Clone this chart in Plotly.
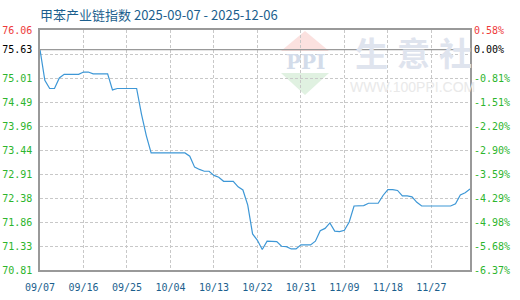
import plotly.graph_objects as go
import pandas as pd

# ---- data ----
start_date = "2025-09-07"
index_values = [
    75.63, 74.96, 74.78, 74.78, 75.01, 75.09, 75.09, 75.09, 75.09, 75.14,
    75.14, 75.10, 75.10, 75.10, 75.10, 74.75, 74.78, 74.78, 74.78, 74.78,
    74.78, 74.22, 73.75, 73.37, 73.37, 73.37, 73.37, 73.37, 73.37, 73.37,
    73.37, 73.30, 73.06, 73.01, 72.97, 72.97, 72.88, 72.84, 72.75, 72.75,
    72.75, 72.63, 72.56, 72.23, 71.60, 71.46, 71.26, 71.44, 71.44, 71.43,
    71.33, 71.32, 71.27, 71.27, 71.36, 71.36, 71.36, 71.44, 71.67, 71.72,
    71.84, 71.66, 71.65, 71.68, 71.86, 72.21, 72.21, 72.22, 72.27, 72.27,
    72.27, 72.44, 72.57, 72.57, 72.55, 72.43, 72.43, 72.41, 72.29, 72.21,
    72.21, 72.21, 72.21, 72.21, 72.21, 72.21, 72.26, 72.45, 72.50, 72.58,
]
dates = pd.date_range(start_date, periods=len(index_values), freq="D")

base_value = 75.63
grid_levels = [70.81, 71.335, 71.86, 72.385, 72.91, 73.435, 73.96, 74.485, 75.01, 75.535, 76.06]
left_labels = ["70.81", "71.33", "71.86", "72.38", "72.91", "73.44", "73.96", "74.49", "75.01", "", "76.06"]
right_labels = ["-6.37%", "-5.68%", "-4.98%", "-4.29%", "-3.59%", "-2.90%", "-2.20%", "-1.51%", "-0.81%", "", "0.58%"]
base_label_left = "75.63"
base_label_right = "0.00%"
x_tick_dates = ["2025-09-07", "2025-09-16", "2025-09-25", "2025-10-04", "2025-10-13",
                "2025-10-22", "2025-10-31", "2025-11-09", "2025-11-18", "2025-11-27"]
x_tick_labels = ["09/07", "09/16", "09/25", "10/04", "10/13", "10/22", "10/31", "11/09", "11/18", "11/27"]
title_text = "甲苯产业链指数 2025-09-07 - 2025-12-06"

RED = "#ee3b3b"
GREEN = "#2db52d"
BLACK = "#000000"

def colored(labels, top_idx):
    out = []
    for i, t in enumerate(labels):
        c = RED if i == top_idx else GREEN
        out.append(f'<span style="color:{c}">{t}</span>' if t else "")
    return out

ltext = colored(left_labels, len(left_labels) - 1) + [f'<span style="color:{BLACK}">{base_label_left}</span>']
rtext = colored(right_labels, len(right_labels) - 1) + [f'<span style="color:{BLACK}">{base_label_right}</span>']
tvals = grid_levels + [base_value]

# ---- figure ----
L, R, T, B = 40, 50, 30, 30
W, H = 520, 300
PW, PH = W - L - R, H - T - B

def px(X):
    return (X - L) / PW

def py(Y):
    return (H - B - Y) / PH

fig = go.Figure()
fig.add_trace(go.Scatter(x=dates, y=index_values, mode="lines",
                         line=dict(color="#3d97d6", width=1.2), hoverinfo="skip",
                         showlegend=False))
fig.add_trace(go.Scatter(x=[dates[0]], y=[base_value], yaxis="y2", mode="markers",
                         marker=dict(opacity=0), hoverinfo="skip", showlegend=False))

mono = "DejaVu Sans Mono"
yr = [grid_levels[0], grid_levels[-1]]
fig.update_layout(
    width=W, height=H,
    margin=dict(l=L, r=R, t=T, b=B, autoexpand=False),
    paper_bgcolor="white", plot_bgcolor="white",
    title=dict(text=title_text, x=L / W, xanchor="left", y=1 - 15 / H, yanchor="middle",
               font=dict(family="Noto Sans CJK SC", size=13, color="#1c5f8e")),
    xaxis=dict(type="date", range=[dates[0], dates[-1]], automargin=False,
               tickvals=x_tick_dates, ticktext=x_tick_labels,
               showgrid=True, gridcolor="#c8c8c8", griddash="3px,2px", gridwidth=1,
               showline=True, linecolor="#999999", linewidth=1.5, mirror=True,
               ticks="", ticklabelstandoff=7,
               tickfont=dict(family=mono, size=10, color="#1c5f8e"),
               zeroline=False),
    yaxis=dict(range=yr, tickvals=tvals, ticktext=ltext, automargin=False,
               showgrid=True, gridcolor="#c8c8c8", griddash="3px,2px", gridwidth=1,
               showline=True, linecolor="#999999", linewidth=1.5, mirror=True,
               ticks="", ticklabelstandoff=4,
               tickfont=dict(family=mono, size=10), zeroline=False),
    yaxis2=dict(range=yr, overlaying="y", side="right", tickvals=tvals, ticktext=rtext,
                automargin=False,
                showgrid=False, showline=False, ticks="", ticklabelstandoff=3,
                tickfont=dict(family=mono, size=10), zeroline=False),
)

# base line (0%)
fig.add_shape(type="line", xref="paper", yref="y", x0=0, x1=1, y0=base_value, y1=base_value,
              line=dict(color="#999999", width=1.2), layer="above")

# watermark
fig.add_shape(type="path", xref="paper", yref="paper", layer="below",
              path=f"M {px(305)} {py(31)} L {px(329)} {py(51)} L {px(281)} {py(51)} Z",
              fillcolor="#fbe1df", line=dict(width=0))
fig.add_shape(type="path", xref="paper", yref="paper", layer="below",
              path=f"M {px(281)} {py(73)} L {px(329)} {py(73)} L {px(305)} {py(95)} Z",
              fillcolor="#e0f1e1", line=dict(width=0))
fig.add_annotation(text="<b>PPI</b>", xref="paper", yref="paper", x=px(305), y=py(62),
                   xanchor="center", yanchor="middle",
                   showarrow=False, font=dict(family="DejaVu Serif", size=20, color="#d3dcea"))
for cx, ch in zip([371, 413, 455], ["生", "意", "社"]):
    fig.add_annotation(text=ch, xref="paper", yref="paper", x=px(cx), y=py(52),
                       xanchor="center", yanchor="middle",
                       showarrow=False,
                       font=dict(family="Noto Sans CJK SC", size=33, color="#dfe4ee", weight="bold"))
fig.add_annotation(text="WWW.100PPI.COM", xref="paper", yref="paper", x=px(412), y=py(87),
                   xanchor="center", yanchor="middle",
                   showarrow=False, font=dict(family="Liberation Sans", size=14, color="#e9e9e9"))

fig.write_html("out.html")
